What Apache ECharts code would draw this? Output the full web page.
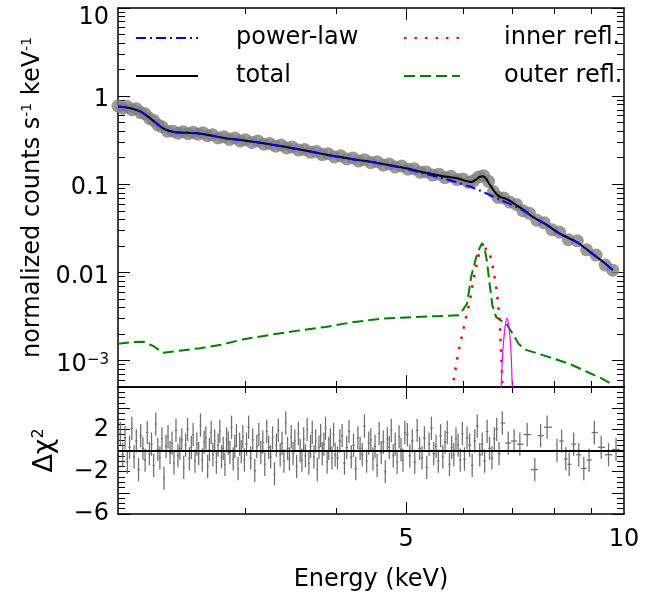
<!DOCTYPE html>
<html><head><meta charset="utf-8">
<script src="https://cdn.jsdelivr.net/npm/echarts@6.0.0/dist/echarts.min.js"></script>
<style>html,body{margin:0;padding:0;background:#fff}#c{width:647px;height:601px}</style>
</head><body><div id="c"></div>
<script>
// ---------- data ----------
const dataE = [2.00,2.03,2.06,2.09,2.12,2.15,2.18,2.21,2.24,2.27,2.30,2.34,2.38,2.42,2.46,2.50,2.54,2.58,2.62,2.66,2.70,2.75,2.80,2.85,2.90,2.95,3.00,3.06,3.12,3.18,3.24,3.30,3.36,3.42,3.48,3.55,3.62,3.69,3.76,3.83,3.90,3.98,4.06,4.14,4.22,4.30,4.38,4.47,4.56,4.65,4.74,4.83,4.93,5.03,5.13,5.23,5.33,5.44,5.55,5.66,5.77,5.88,5.99,6.10,6.20,6.30,6.40,6.50,6.60,6.70,6.82,6.95,7.10,7.25,7.40,7.58,7.76,7.95,8.15,8.38,8.62,8.88,9.15,9.42,9.65];
const dataV = [0.77,0.73,0.76,0.70,0.72,0.65,0.63,0.56,0.53,0.47,0.45,
  0.40,0.40,0.38,0.395,0.375,0.39,0.37,0.385,0.355,0.365,
  0.335,0.345,0.322,0.335,0.31,0.32,
  0.298,0.31,0.285,0.29,0.27,0.278,0.258,0.265,
  0.245,0.248,0.23,0.236,0.217,0.222,
  0.204,0.21,0.194,0.199,0.184,0.19,
  0.176,0.18,0.165,0.17,0.157,
  0.161,0.148,0.15,0.137,0.138,
  0.127,0.13,0.119,0.123,0.113,0.115,
  0.105,0.11,0.121,0.125,0.108,0.082,0.071,
  0.070,0.063,0.059,0.050,0.047,0.039,0.0365,0.0305,0.0285,0.0235,0.0228,0.018,0.0157,0.0121,0.0106];

const modelE = [2.00,2.05,2.10,2.15,2.20,2.25,2.30,2.35,2.40,2.50,2.60,2.70,2.80,2.90,3.00,3.20,3.40,3.60,3.80,4.00,4.20,4.40,4.60,4.80,5.00,5.30,5.60,5.90,6.05,6.15,6.25,6.32,6.38,6.44,6.52,6.60,6.68,6.76,6.85,6.95,7.10,7.30,7.47,7.80,8.15,8.60,9.05,9.40,9.65];
const totalV = [0.76,0.745,0.715,0.665,0.585,0.505,0.44,0.405,0.39,0.383,0.375,0.355,0.335,0.323,0.312,0.289,0.266,0.244,0.224,0.207,0.193,0.183,0.172,0.162,0.152,0.136,0.124,0.116,0.109,0.106,0.113,0.121,0.123,0.117,0.100,0.086,0.076,0.071,0.069,0.065,0.058,0.050,0.043,0.035,0.0275,0.0221,0.0162,0.0128,0.0106];
const powerV = [0.76,0.745,0.715,0.665,0.585,0.505,0.44,0.405,0.39,0.383,0.375,0.355,0.335,0.323,0.312,0.289,0.266,0.244,0.224,0.207,0.193,0.183,0.172,0.160,0.150,0.132,0.118,0.104,0.097,0.093,0.088,0.085,0.082,0.079,0.076,0.072,0.069,0.066,0.063,0.060,0.055,0.049,0.043,0.035,0.0275,0.0221,0.0162,0.0128,0.0106];

const outerE = [2.00,2.10,2.17,2.24,2.31,2.45,2.60,2.79,2.97,3.30,3.60,3.87,4.20,4.61,5.00,5.50,5.92,6.07,6.15,6.25,6.32,6.37,6.42,6.47,6.52,6.58,6.66,6.76,6.88,7.02,7.15,7.30,7.60,8.00,8.45,8.90,9.30,9.65];
const outerV = [1.55e-3,1.62e-3,1.63e-3,1.45e-3,1.22e-3,1.30e-3,1.38e-3,1.52e-3,1.73e-3,2.0e-3,2.22e-3,2.40e-3,2.70e-3,2.97e-3,3.08e-3,3.18e-3,3.27e-3,4.4e-3,8.9e-3,1.49e-2,1.9e-2,2.15e-2,1.85e-2,1.3e-2,7.5e-3,4.2e-3,3.1e-3,2.85e-3,2.6e-3,2.0e-3,1.55e-3,1.33e-3,1.2e-3,1.05e-3,9.0e-4,7.4e-4,6.3e-4,5.3e-4];

const innerE = [5.72,5.81,5.90,6.01,6.12,6.22,6.31,6.38,6.45,6.51,6.59,6.67,6.73,6.77,6.80];
const innerV = [3.5e-4,5.7e-4,1.2e-3,2.4e-3,4.6e-3,9.8e-3,1.65e-2,1.8e-2,1.85e-2,1.8e-2,1.14e-2,6.3e-3,3.1e-3,1.1e-3,4.0e-4];

const lineE = [6.75,6.79,6.82,6.86,6.89,6.92,6.96,6.99,7.02];
const lineV = [3e-4,1.0e-3,1.7e-3,2.6e-3,3.0e-3,2.7e-3,1.8e-3,1.0e-3,3e-4];

const resE = [2.000,2.015,2.030,2.045,2.060,2.075,2.090,2.105,2.120,2.135,2.150,2.165,2.180,2.195,2.210,2.225,2.240,2.255,2.270,2.285,2.300,2.315,2.330,2.345,2.360,2.375,2.390,2.405,2.420,2.435,2.450,2.465,2.480,2.495,2.510,2.525,2.540,2.555,2.570,2.585,2.600,2.615,2.630,2.645,2.660,2.675,2.690,2.705,2.720,2.735,2.750,2.765,2.780,2.795,2.810,2.825,2.840,2.855,2.870,2.885,2.900,2.915,2.930,2.945,2.960,2.975,2.990,
  3.01,3.03,3.05,3.07,3.09,3.11,3.13,3.15,3.17,3.19,3.21,3.23,3.25,3.27,3.29,3.31,3.33,3.35,3.37,3.39,3.41,3.43,3.45,3.47,3.49,3.51,3.53,3.55,3.57,3.59,3.61,3.63,3.65,3.67,3.69,3.71,3.73,3.75,3.77,3.79,3.81,3.83,3.85,3.87,3.89,3.91,3.93,3.95,3.97,3.99,
  4.02,4.05,4.08,4.11,4.14,4.17,4.20,4.23,4.26,4.29,4.32,4.35,4.38,4.41,4.44,4.47,4.50,4.53,4.56,4.59,4.62,4.65,4.68,4.71,4.74,4.77,4.80,4.83,4.86,4.89,4.92,4.95,4.98,
  5.02,5.06,5.10,5.14,5.18,5.22,5.26,5.30,5.34,5.38,5.42,5.46,5.50,5.54,5.58,5.62,5.66,5.70,5.74,5.78,5.82,5.86,5.90,5.94,5.98,
  6.02,6.07,6.12,6.17,6.22,6.27,6.32,6.37,6.42,6.47,6.52,6.57,6.62,6.67,6.72,
  6.79,6.92,7.05,7.18,7.35,7.53,7.67,7.83,8.08,8.20,8.31,8.40,8.52,8.66,8.80,8.95,9.10,9.30,9.52,9.75];
const resV = [0.8,1.6,-0.4,1.2,-1.1,0.3,2.1,-0.6,0.9,-1.8,1.4,0.2,-0.9,1.7,-0.3,0.6,-1.4,2.5,0.1,-0.7,1.1,-2.6,0.4,1.3,-0.2,0.7,-1.2,1.9,-0.5,0.2,1.0,-1.6,0.5,2.0,-0.8,0.3,1.5,-1.0,0.6,-0.3,2.4,-0.9,0.8,1.2,-1.5,0.1,1.7,-0.4,0.9,-1.1,0.5,1.8,-0.6,0.2,-1.3,1.1,0.7,-0.2,2.2,-0.8,0.4,1.4,-1.7,0.6,-0.1,1.3,-0.9,
  0.6,2.2,-0.7,1.0,-1.9,0.4,1.5,-0.2,0.8,-1.3,1.8,0.3,-0.6,1.2,-2.2,0.5,1.9,-0.4,0.7,-1.0,2.6,0.2,-0.8,1.3,-0.3,0.9,-1.5,1.6,0.0,-0.9,1.1,-0.5,2.0,-1.2,0.4,1.7,-0.6,0.9,-1.8,0.3,1.4,-0.3,0.6,2.1,-1.1,0.2,1.0,-0.7,1.5,-0.4,
  -0.7,0.9,1.4,-1.2,0.3,1.8,-0.6,0.5,-1.7,1.2,0.2,-0.4,2.3,-1.0,0.7,1.0,-0.8,0.4,-1.4,1.6,-0.2,0.8,-2.0,1.1,0.3,1.9,-0.5,0.6,-1.1,1.3,0.1,-0.9,1.7,
  1.5,-0.5,0.9,-1.1,1.9,0.2,-0.7,1.2,-1.6,0.6,2.1,-0.3,0.4,-1.0,1.4,-0.6,0.8,1.7,-1.3,0.3,-0.4,1.1,0.5,-0.9,1.6,
  -0.8,1.2,0.5,-1.4,0.9,2.3,-0.4,0.6,-1.0,1.8,0.2,-0.7,1.1,2.0,-0.3,
  2.6,0.7,0.9,0.6,1.5,-1.8,1.4,2.2,0.0,0.9,-0.8,-1.3,0.6,-0.4,-1.7,-0.9,1.7,0.3,-0.4,0.1];

// tick values / labels
const xMajorTicks = [5];
const xMinorTicks = [3,4,6,7,8,9];
const xTickLabels = [5,10];
const yDecades = [0.001,0.01,0.1,1,10];
const yMinorTicks = [0.0006,0.0007,0.0008,0.0009,0.002,0.003,0.004,0.005,0.006,0.007,0.008,0.009,0.02,0.03,0.04,0.05,0.06,0.07,0.08,0.09,0.2,0.3,0.4,0.5,0.6,0.7,0.8,0.9,2,3,4,5,6,7,8,9];
const resLabels = {'2':'2','-2':'\u22122','-6':'\u22126'};

// ---------- chart ----------
const FONT = 'DejaVu Sans';
const BLACK = '#000';
const zip = (a, b) => a.map((v, i) => [v, b[i]]);

function xAxisDef(grid, pos, ticks, len, line, labels) {
  const ax = {
    type: 'log', logBase: 10, gridIndex: grid, position: pos, min: 2, max: 10,
    axisLine: {show: line, onZero: false, lineStyle: {color: BLACK, width: 1.5}},
    axisTick: {show: true, inside: true, length: len, customValues: ticks, lineStyle: {color: BLACK, width: 1}},
    axisLabel: {show: false},
    splitLine: {show: false}
  };
  if (labels) {
    ax.axisLabel = {show: true, customValues: labels, margin: 14, fontFamily: FONT, fontSize: 24, color: BLACK,
      formatter: v => String(Math.round(v))};
    ax.name = 'Energy (keV)';
    ax.nameLocation = 'middle';
    ax.nameGap = 54;
    ax.nameTextStyle = {fontFamily: FONT, fontSize: 24, color: BLACK};
  }
  return ax;
}
function yLogDef(pos, ticks, len, line, labels) {
  const ax = {
    type: 'log', logBase: 10, gridIndex: 0, position: pos, min: 5e-4, max: 10,
    axisLine: {show: line, onZero: false, lineStyle: {color: BLACK, width: 1.5}},
    axisTick: {show: true, inside: true, length: len, customValues: ticks, lineStyle: {color: BLACK, width: 1}},
    axisLabel: {show: false},
    splitLine: {show: false}
  };
  if (labels) {
    ax.axisLabel = {show: true, customValues: labels, margin: 9, fontFamily: FONT, fontSize: 24, color: BLACK,
      padding: [8, 0, 0, 0],
      formatter: function (v) {
        const p = Math.round(Math.log10(v));
        if (p === 1) return '{top|10}';
        if (p === -3) return '10{sup|\u22123}';
        return {0: '1', '-1': '0.1', '-2': '0.01'}[p];
      },
      rich: {
        top: {fontFamily: FONT, fontSize: 24, color: BLACK, padding: [12, 0, 0, 0]},
        sup: {fontFamily: FONT, fontSize: 15, color: BLACK, verticalAlign: 'top', lineHeight: 14}
      }
    };
    ax.name = 'normalized counts s{s|-1} keV{s|-1}';
    ax.nameLocation = 'middle';
    ax.nameRotate = 90;
    ax.nameGap = 70;
    ax.nameTextStyle = {fontFamily: FONT, fontSize: 24, color: BLACK,
      rich: {s: {fontFamily: FONT, fontSize: 14, color: BLACK, verticalAlign: 'top', lineHeight: 12}}};
  }
  return ax;
}
function yResDef(pos, labels) {
  const ax = {
    type: 'value', gridIndex: 1, position: pos, min: -6, max: 6, interval: 2,
    axisLine: {show: true, onZero: false, lineStyle: {color: BLACK, width: 1.5}},
    axisTick: {show: true, inside: true, length: 12, lineStyle: {color: BLACK, width: 1}},
    minorTick: {show: true, splitNumber: 4, length: 7, lineStyle: {color: BLACK, width: 1}},
    axisLabel: {show: false},
    splitLine: {show: false}
  };
  if (labels) {
    ax.axisLabel = {show: true, margin: 9, fontFamily: FONT, fontSize: 24, color: BLACK,
      padding: [10, 0, 0, 0],
      showMinLabel: true, showMaxLabel: true,
      formatter: v => resLabels[String(v)] || ''};
    ax.name = '\u0394\u03c7{s|2}';
    ax.nameLocation = 'middle';
    ax.nameRotate = 90;
    ax.nameGap = 60;
    ax.nameTextStyle = {fontFamily: FONT, fontSize: 27, color: BLACK,
      rich: {s: {fontFamily: FONT, fontSize: 16, color: BLACK, verticalAlign: 'top', lineHeight: 14}}};
  }
  return ax;
}

function legendDef(name, left, top, width, gap) {
  return {
    data: [name], left: left, top: top, padding: 0, itemWidth: width, itemHeight: 14,
    selectedMode: false,
    itemStyle: {opacity: 0, borderWidth: 0},
    textStyle: {fontFamily: FONT, fontSize: 24, color: BLACK, lineHeight: 28, padding: [0, 0, 0, gap]}
  };
}

const option = {
  animation: false,
  backgroundColor: '#fff',
  grid: [
    {left: 118, right: 23, top: 8, height: 379},
    {left: 118, right: 23, top: 387, height: 127}
  ],
  legend: [
    legendDef('power-law', 135, 24, 62, 33),
    legendDef('total', 135, 62, 62, 33),
    legendDef('inner refl.', 403, 24, 56, 39),
    legendDef('outer refl.', 403, 62, 56, 39)
  ],
  xAxis: [
    xAxisDef(0, 'bottom', xMajorTicks, 12, true),
    xAxisDef(0, 'top', xMajorTicks, 12, true),
    xAxisDef(1, 'bottom', xMajorTicks, 12, true, xTickLabels),
    xAxisDef(1, 'top', xMajorTicks, 12, true),
    xAxisDef(0, 'bottom', xMinorTicks, 6, false),
    xAxisDef(0, 'top', xMinorTicks, 6, false),
    xAxisDef(1, 'bottom', xMinorTicks, 6, false),
    xAxisDef(1, 'top', xMinorTicks, 6, false)
  ],
  yAxis: [
    yLogDef('left', yDecades, 12, true, yDecades),
    yLogDef('right', yDecades, 12, true),
    yLogDef('left', yMinorTicks, 7, false),
    yLogDef('right', yMinorTicks, 7, false),
    yResDef('left', true),
    yResDef('right', false)
  ],
  series: [
    {name: 'data', type: 'scatter', xAxisIndex: 0, yAxisIndex: 0, data: zip(dataE, dataV),
      symbol: 'circle', symbolSize: 13, itemStyle: {color: '#808080'}, silent: true, clip: true},
    {name: 'outer refl.', type: 'line', xAxisIndex: 0, yAxisIndex: 0, data: zip(outerE, outerV),
      symbol: 'none', lineStyle: {color: '#008000', width: 2, type: [11, 5]}, itemStyle: {color: '#008000'}},
    {name: 'inner refl.', type: 'line', xAxisIndex: 0, yAxisIndex: 0, data: zip(innerE, innerV),
      symbol: 'none', lineStyle: {color: '#ff0000', width: 2.5, type: [2.5, 8]}, itemStyle: {color: '#ff0000'}},
    {name: 'line', type: 'line', xAxisIndex: 0, yAxisIndex: 0, data: zip(lineE, lineV),
      symbol: 'none', smooth: 0.3, lineStyle: {color: '#ff00ff', width: 1.2}},
    {name: 'total', type: 'line', xAxisIndex: 0, yAxisIndex: 0, data: zip(modelE, totalV),
      symbol: 'none', smooth: 0.3, lineStyle: {color: '#000', width: 2}, itemStyle: {color: '#000'}},
    {name: 'power-law', type: 'line', xAxisIndex: 0, yAxisIndex: 0, data: zip(modelE, powerV),
      symbol: 'none', smooth: 0.3, lineStyle: {color: '#0000ff', width: 2, type: [10, 4, 2, 4]}, itemStyle: {color: '#0000ff'}},
    {name: 'residuals', type: 'custom', xAxisIndex: 2, yAxisIndex: 4, clip: true,
      data: zip(resE, resV),
      renderItem: function (params, api) {
        const i = params.dataIndex;
        const e = api.value(0), v = api.value(1);
        const prev = i > 0 ? resE[i - 1] : e * e / resE[i + 1];
        const next = i < resE.length - 1 ? resE[i + 1] : e * e / resE[i - 1];
        const pL = api.coord([Math.sqrt(prev * e), v]);
        const pR = api.coord([Math.sqrt(next * e), v]);
        const pT = api.coord([e, v + 1.1]);
        const pB = api.coord([e, v - 1.1]);
        const st = {stroke: '#6e6e6e', lineWidth: 1.25};
        return {type: 'group', children: [
          {type: 'line', shape: {x1: pL[0], y1: pL[1], x2: pR[0], y2: pR[1]}, style: st},
          {type: 'line', shape: {x1: pT[0], y1: pT[1], x2: pB[0], y2: pB[1]}, style: st}
        ]};
      },
      markLine: {silent: true, symbol: 'none', label: {show: false},
        lineStyle: {color: '#000', width: 2, type: 'solid'}, data: [{yAxis: 0}]}
    }
  ]
};

const chart = echarts.init(document.getElementById('c'), null, {renderer: 'canvas'});
chart.setOption(option);
</script>
</body></html>
